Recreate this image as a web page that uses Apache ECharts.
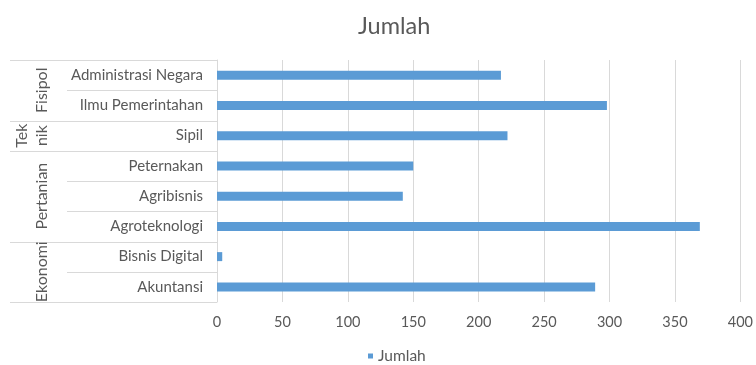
<!DOCTYPE html>
<html>
<head>
<meta charset="utf-8">
<script src="https://cdn.jsdelivr.net/npm/echarts@6/dist/echarts.min.js"></script>
<style>html,body{margin:0;padding:0;background:#fff}#c{width:756px;height:365px}</style>
</head>
<body>
<div id="c"></div>
<script>
const categories = ['Administrasi Negara','Ilmu Pemerintahan','Sipil','Peternakan','Agribisnis','Agroteknologi','Bisnis Digital','Akuntansi'];
const values = [217, 298, 222, 150, 142, 369, 4, 289];
const groupLabels = ['Fisipol', 'Tek\nnik', 'Pertanian', 'Ekonomi'];
const groupSizes = [2, 1, 3, 2];
const seriesName = 'Jumlah';
const titleText = 'Jumlah';

const FONT = 'Lato';
const TXT = '#595959';
const LINE = '#d9d9d9';

const chart = echarts.init(document.getElementById('c'));
chart.setOption({
  animation: false,
  textStyle: { fontFamily: FONT },
  title: { text: titleText, left: 353, top: 9,
    textStyle: { fontFamily: FONT, fontSize: 23.5, fontWeight: 'normal', color: TXT } },
  legend: { top: 343, left: 363, padding: 5, icon: 'rect', itemWidth: 5, itemHeight: 5, itemGap: 10,
    textStyle: { fontFamily: FONT, fontSize: 15.5, color: TXT }, data: [seriesName] },
  grid: { left: 217, right: 11, top: 60, bottom: 63, containLabel: false },
  xAxis: { type: 'value', min: 0, max: 400, interval: 50,
    axisLine: { show: false }, axisTick: { show: false },
    axisLabel: { color: TXT, fontSize: 14.5, margin: 13, fontFamily: FONT },
    splitLine: { lineStyle: { color: LINE, width: 1 } } },
  yAxis: { type: 'category', inverse: true, data: categories,
    axisLine: { lineStyle: { color: LINE } }, axisTick: { show: false },
    axisLabel: { color: TXT, fontSize: 15, margin: 14, fontFamily: FONT } },
  series: [{ name: seriesName, type: 'bar', data: values, barWidth: 9,
    itemStyle: { color: '#5b9bd5' } }]
});

function drawGroups() {
  const p0 = chart.convertToPixel({ yAxisIndex: 0 }, categories[0]);
  const p1 = chart.convertToPixel({ yAxisIndex: 0 }, categories[1]);
  const band = p1 - p0;
  const axisX = chart.convertToPixel({ xAxisIndex: 0 }, 0);
  const g = [];
  const top = p0 - band / 2;
  for (let i = 0; i <= categories.length; i++) {
    const y = Math.round(top + i * band) + 0.5;
    g.push({ type: 'line', shape: { x1: 67, y1: y, x2: axisX, y2: y },
      style: { stroke: LINE, lineWidth: 1 }, silent: true });
  }
  let idx = 0;
  for (let k = 0; k < groupSizes.length; k++) {
    const yStart = top + idx * band;
    const yEnd = top + (idx + groupSizes[k]) * band;
    [yStart, yEnd].forEach(v => {
      const y = Math.round(v) + 0.5;
      g.push({ type: 'line', shape: { x1: 10, y1: y, x2: 67, y2: y },
        style: { stroke: LINE, lineWidth: 1 }, silent: true });
    });
    const multi = groupLabels[k].indexOf('\n') >= 0;
    g.push({ type: 'text', x: multi ? 32 : 42, y: (yStart + yEnd) / 2, rotation: Math.PI / 2,
      style: { text: groupLabels[k], fill: TXT, font: '16px ' + FONT,
        align: 'center', verticalAlign: 'middle', lineHeight: 20 }, silent: true });
    idx += groupSizes[k];
  }
  chart.setOption({ graphic: g });
}
drawGroups();
</script>
</body>
</html>
